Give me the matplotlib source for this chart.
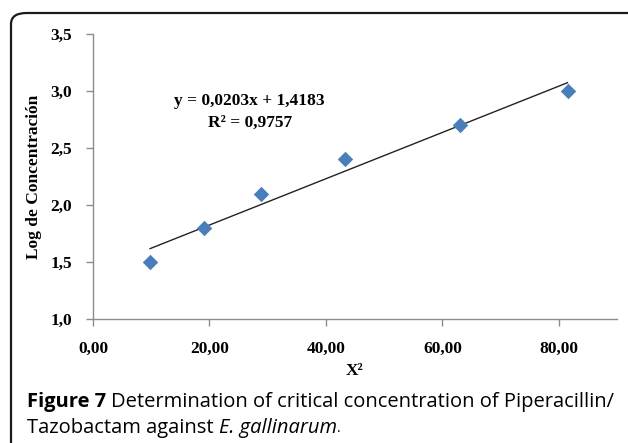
import matplotlib
matplotlib.use("Agg")
import matplotlib.pyplot as plt
from matplotlib.patches import FancyBboxPatch
import numpy as np

x_vals = [9.8, 19.1, 28.8, 43.2, 63.0, 81.5]
y_vals = [1.5, 1.8, 2.1, 2.4, 2.7, 3.0]
slope = 0.0203
intercept = 1.4183
eq_text = "y = 0,0203x + 1,4183"
r2_text = "R² = 0,9757"
x_ticks = [0, 20, 40, 60, 80]
x_tick_labels = ["0,00", "20,00", "40,00", "60,00", "80,00"]
y_ticks = [1.0, 1.5, 2.0, 2.5, 3.0, 3.5]
y_tick_labels = ["1,0", "1,5", "2,0", "2,5", "3,0", "3,5"]

W, H = 628, 443
fig = plt.figure(figsize=(W/100, H/100), dpi=100)

# rounded border (cut off at right and bottom)
border = FancyBboxPatch((11/W, -0.2), 1.2, 1.2 - 13/H,
                        boxstyle="round,pad=0,rounding_size=0.025",
                        transform=fig.transFigure, fill=False,
                        edgecolor="#1a1a1a", linewidth=1.6, clip_on=False)
fig.patches.append(border)

ax = fig.add_axes([93/W, (H-319)/H, (617-93)/W, (319-34)/H])
serif = "Liberation Serif"
gray = "#8c8c8c"

ax.scatter(x_vals, y_vals, marker="D", s=62, color="#4a7ebb", zorder=3, linewidths=0)
xs = np.array([min(x_vals), max(x_vals)])
ax.plot(xs, slope*xs + intercept, color="#222222", linewidth=1.0, zorder=2)

ax.set_xlim(0, 90)
ax.set_ylim(1.0, 3.5)
ax.set_xticks(x_ticks)
ax.set_xticklabels(x_tick_labels, fontfamily=serif, fontweight="bold", fontsize=12.5)
ax.set_yticks(y_ticks)
ax.set_yticklabels(y_tick_labels, fontfamily=serif, fontweight="bold", fontsize=12.5)
for s in ["top", "right"]:
    ax.spines[s].set_visible(False)
for s in ["left", "bottom"]:
    ax.spines[s].set_color(gray)
    ax.spines[s].set_linewidth(1.0)
ax.tick_params(axis="both", direction="out", length=5, color=gray, width=1.0)
ax.tick_params(axis="x", pad=11)
ax.tick_params(axis="y", pad=10)

ax.set_xlabel("X²", fontfamily=serif, fontweight="bold", fontsize=12.5, labelpad=4)
ax.set_ylabel("Log de Concentración", fontfamily=serif, fontweight="bold", fontsize=12.5, labelpad=6)

ax.text(26.9, 2.91, eq_text, ha="center", va="center", fontfamily=serif, fontweight="bold", fontsize=12.5)
ax.text(26.9, 2.72, r2_text, ha="center", va="center", fontfamily=serif, fontweight="bold", fontsize=12.5)

cap_font = "Open Sans"
cap_size = 14.5
y1 = 1 - 402/H
t = fig.text(27/W, y1, "Figure 7", fontfamily=cap_font, fontweight="bold", fontsize=cap_size, va="center", ha="left")
fig.canvas.draw()
bb = t.get_window_extent()
fig.text(bb.x1/W + 5/W, y1, "Determination of critical concentration of Piperacillin/",
         fontfamily=cap_font, fontsize=cap_size, va="center", ha="left")
y2 = 1 - 428/H
t2 = fig.text(27/W, y2, "Tazobactam against ", fontfamily=cap_font, fontsize=cap_size, va="center", ha="left")
fig.canvas.draw()
bb2 = t2.get_window_extent()
t3 = fig.text(bb2.x1/W, y2, "E. gallinarum", fontfamily=cap_font, fontstyle="italic", fontsize=cap_size, va="center", ha="left")
fig.canvas.draw()
bb3 = t3.get_window_extent()
fig.text(bb3.x1/W, y2, ".", fontfamily=cap_font, fontsize=10, va="center", ha="left")

fig.savefig("out.png", dpi=100)
